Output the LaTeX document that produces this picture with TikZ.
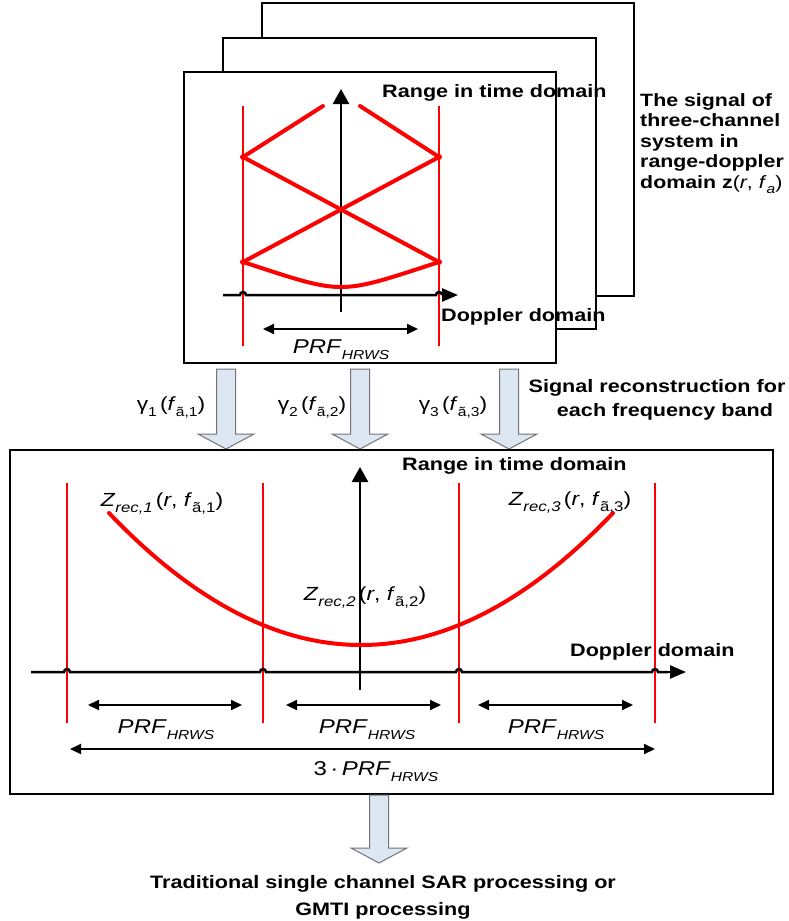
\documentclass[tikz,border=0pt]{standalone}
\usepackage{fontspec}
\setmainfont{Liberation Sans}[FakeStretch=1.2]
\usetikzlibrary{arrows.meta}
\newcommand\lowtxt[2]{\raisebox{-0.32em}{\fontsize{#1}{#1}\selectfont #2}}
\newcommand\bigdownarrow[4]{%
  \draw[blk] (#1-9.5,#2) -- (#1+9.5,#2) -- (#1+9.5,#3) -- (#1+28,#3) -- (#1,#4)
     -- (#1-28,#3) -- (#1-9.5,#3) -- cycle;}
\begin{document}
\begin{tikzpicture}[x=1pt,y=-1pt,
  panel/.style={draw=black, line width=1.2pt, fill=white},
  redthin/.style={draw=red, line width=1.4pt},
  redthick/.style={draw=red, line width=4pt, line cap=round},
  axisline/.style={draw=black, line width=2.5pt},
  vtip/.style={-{Triangle[length=15pt,width=16pt]}},
  htip/.style={-{Triangle[length=16pt,width=13pt]}},
  dimarr/.style={draw=black, line width=2pt, {Triangle[length=11pt,width=10pt]}-{Triangle[length=11pt,width=10pt]}},
  blk/.style={draw=black!55, line width=1pt, fill={rgb,255:red,221;green,231;blue,243}},
  bigtxt/.style={font=\fontsize{18}{21}\selectfont\bfseries, inner sep=0pt},
  rtxt/.style={font=\fontsize{17.8}{20.5}\selectfont\bfseries, inner sep=0pt, anchor=base west},
  gtxt/.style={font=\fontsize{19}{22}\selectfont, inner sep=0pt},
  prftxt/.style={font=\fontsize{20}{22}\selectfont, inner sep=0pt, anchor=base},
  ztxt/.style={font=\fontsize{19}{22}\selectfont, inner sep=0pt, anchor=base},
  reddot/.style={fill=red, draw=none}
]
\useasboundingbox (0,0) rectangle (788,921);

% ---------- stacked panels ----------
\draw[panel] (262,3) rectangle (634,296);
\draw[panel] (223,38) rectangle (596,329);
\draw[panel] (184,72) rectangle (556,363);

% ---------- top panel ----------
\coordinate (tl1) at (243,106); \coordinate (tl2) at (243,346);
\coordinate (tr1) at (439,106); \coordinate (tr2) at (439,346);
\draw[redthin] (tl1) -- (tl2);
\draw[redthin] (tr1) -- (tr2);

\draw[axisline] (223,295) -- (240,295) arc[start angle=180,end angle=360,radius=3]
   -- (436,295) arc[start angle=180,end angle=360,radius=3] -- (442,295);
\draw[axisline,htip] (442,295) -- (458,295);
\draw[axisline,vtip] (341,312) -- (341,89);

\coordinate (a) at (243,157); \coordinate (b) at (439,157);
\coordinate (c) at (243,262); \coordinate (d) at (439,262);
\coordinate (m) at (341,209.5); \coordinate (bot) at (341,287);
\draw[redthick] (a) -- (323,106);
\draw[redthick] (360,106) -- (b);
\draw[redthick] (a) -- (d);
\draw[redthick] (b) -- (c);
\draw[redthick] (c) .. controls (295,279) and (318,287) .. (bot)
                    .. controls (364,287) and (387,279) .. (d);
\foreach \p in {a,b,c,d,m} \fill[reddot] (\p) circle (3);

\coordinate (tp1) at (263,329); \coordinate (tp2) at (418,329);
\draw[dimarr] (tp1) -- (tp2);
\node[prftxt] (tprf) at (341,353) {\textit{PRF}\lowtxt{13}{\textit{HRWS}}};

\node[bigtxt, anchor=west] (trange) at (382,93) {Range in time domain};
\node[bigtxt, anchor=west] (tdop) at (441,317) {Doppler domain};

% ---------- right description ----------
\node[rtxt] (r1) at (640,106) {The signal of};
\node[rtxt] (r2) at (640,126.5) {three-channel};
\node[rtxt] (r3) at (640,147) {system in};
\node[rtxt] (r4) at (640,167.5) {range-doppler};
\node[rtxt] (r5) at (640,188) {domain \textbf{z}\textnormal{(\textit{r}, \textit{f}\lowtxt{13}{\textit{a}})}};

% ---------- reconstruction arrows ----------
\bigdownarrow{226}{369}{434}{449}
\bigdownarrow{360}{369}{434}{449}
\bigdownarrow{509}{369}{434}{449}

\node[gtxt] (g1) at (171,407) {γ\lowtxt{13}{1}\,(\textit{f}\lowtxt{13}{ã,1})};
\node[gtxt] (g2) at (312,407) {γ\lowtxt{13}{2}\,(\textit{f}\lowtxt{13}{ã,2})};
\node[gtxt] (g3) at (453,407) {γ\lowtxt{13}{3}\,(\textit{f}\lowtxt{13}{ã,3})};

\node[bigtxt, anchor=base] (s1) at (657,392) {Signal reconstruction for};
\node[bigtxt, anchor=base] (s2) at (665,416) {each frequency band};

% ---------- bottom panel ----------
\draw[panel] (10,450) rectangle (773,794);

\foreach \x/\n in {67/1,263/2,459/3,655/4}{
  \coordinate (bu\n) at (\x,483); \coordinate (bd\n) at (\x,723);
  \draw[redthin] (bu\n) -- (bd\n);
}
\draw[axisline] (31,672) -- (64,672) arc[start angle=180,end angle=360,radius=3]
  -- (260,672) arc[start angle=180,end angle=360,radius=3]
  -- (456,672) arc[start angle=180,end angle=360,radius=3]
  -- (652,672) arc[start angle=180,end angle=360,radius=3] -- (668,672);
\draw[axisline,htip] (666,672) -- (686,672);
\draw[axisline,vtip] (360,690) -- (360,467);

\coordinate (cL) at (109,513); \coordinate (cR) at (613,513);
\draw[redthick] (cL) .. controls (277,689) and (445,689) .. (cR);

\node[ztxt] (z1) at (162,506) {\textit{Z}\lowtxt{14}{\textit{rec,1}}\,(\textit{r}, \textit{f}\lowtxt{14}{ã,1})};
\node[ztxt] (z2) at (365,600) {\textit{Z}\lowtxt{14}{\textit{rec,2}}\,(\textit{r}, \textit{f}\lowtxt{14}{ã,2})};
\node[ztxt] (z3) at (570,505) {\textit{Z}\lowtxt{14}{\textit{rec,3}}\,(\textit{r}, \textit{f}\lowtxt{14}{ã,3})};

\node[bigtxt, anchor=west] (brange) at (402,466) {Range in time domain};
\node[bigtxt, anchor=west] (bdop) at (570,652) {Doppler domain};

\coordinate (p1a) at (88,705);  \coordinate (p1b) at (242,705);
\coordinate (p2a) at (286,705); \coordinate (p2b) at (441,705);
\coordinate (p3a) at (478,705); \coordinate (p3b) at (633,705);
\coordinate (p4a) at (70,749);  \coordinate (p4b) at (655,749);
\draw[dimarr] (p1a) -- (p1b);
\draw[dimarr] (p2a) -- (p2b);
\draw[dimarr] (p3a) -- (p3b);
\draw[dimarr] (p4a) -- (p4b);
\node[prftxt] (bprf1) at (166,733) {\textit{PRF}\lowtxt{13}{\textit{HRWS}}};
\node[prftxt] (bprf2) at (367,733) {\textit{PRF}\lowtxt{13}{\textit{HRWS}}};
\node[prftxt] (bprf3) at (556,733) {\textit{PRF}\lowtxt{13}{\textit{HRWS}}};
\node[prftxt] (bprf4) at (376,775) {3\,·\,\textit{PRF}\lowtxt{13}{\textit{HRWS}}};

% ---------- output ----------
\bigdownarrow{379}{795}{848}{863}
\node[bigtxt, anchor=base] (o1) at (383,888) {Traditional single channel SAR processing or};
\node[bigtxt, anchor=base] (o2) at (383,915) {GMTI processing};
\end{tikzpicture}
\end{document}
